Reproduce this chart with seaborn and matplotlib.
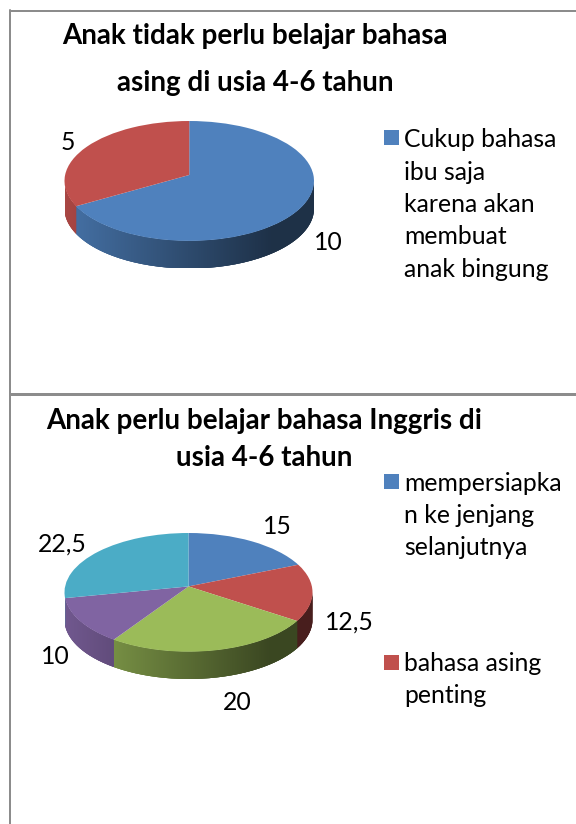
import matplotlib
matplotlib.use("Agg")
import matplotlib.pyplot as plt
import numpy as np
import seaborn as sns
from matplotlib.colors import to_rgb
from matplotlib.lines import Line2D
from matplotlib.patches import PathPatch, Rectangle
from matplotlib.path import Path

top_title = "Anak tidak perlu belajar bahasa\nasing di usia 4-6 tahun"
top_values = [10, 5]
top_labels = ["10", "5"]
top_legend = ["Cukup bahasa\nibu saja\nkarena akan\nmembuat\nanak bingung"]

bottom_title = "Anak perlu belajar bahasa Inggris di\nusia 4-6 tahun"
bottom_values = [15, 12.5, 20, 10, 22.5]
bottom_labels = ["15", "12,5", "20", "10", "22,5"]
bottom_legend = ["mempersiapka\nn ke jenjang\nselanjutnya", "bahasa asing\npenting"]

palette = ["#4F81BD", "#C0504D", "#9BBB59", "#8064A2", "#4BACC6"]

W, H = 576, 824
DEPTH = 0.46
TILT = 0.1

sns.set_theme(style="white")
plt.rcParams["font.family"] = ["Lato", "DejaVu Sans"]

fig = plt.figure(figsize=(W / 100, H / 100), dpi=100, facecolor="white")


def put_text(x, y, s, **kw):
    kw.setdefault("ha", "left")
    kw.setdefault("va", "center")
    kw.setdefault("color", "black")
    fig.text(x / W, 1 - y / H, s, **kw)


def perspective(x, y):
    # keeps the rim on the circle but pushes the pie's centre back, like the 3D view
    d = 1 + TILT * y
    return x * np.sqrt(1 - TILT**2) / d, (y + TILT) / d


def side_faces(ax, wedges, spans):
    # extruded rim below the front half, lighter on the left and dark to the right
    xs = np.linspace(-1, 1, 300)
    shade = np.interp(xs, [-1, 0.65, 1], [0.88, 0.38, 0.38])
    for wedge, (theta1, theta2) in zip(wedges, spans):
        base = np.array(to_rgb(wedge.get_facecolor()[:3]))
        img = (shade[:, None] * base)[None, :, :]
        for k in (-360, 0, 360):
            start = theta1 + k
            stop = theta2 + k
            t = np.radians(np.linspace(start, stop, 200))
            cx, cy = perspective(np.cos(t), np.sin(t))
            keep = cy <= 0
            if keep.sum() < 2:
                continue
            cx, cy = cx[keep], cy[keep]
            px = np.concatenate([cx, cx[::-1]])
            py = np.concatenate([cy, cy[::-1] - DEPTH])
            im = ax.imshow(img, extent=(-1, 1, -1 - DEPTH, 1), aspect="auto", zorder=0)
            im.set_clip_path(PathPatch(Path(np.column_stack([px, py])), transform=ax.transData))


def draw_pie(box, values, colors):
    left, top, right, bottom = box
    ax = fig.add_axes([left / W, 1 - bottom / H, (right - left) / W, (bottom - top) / H])
    wedges, _ = ax.pie(values, colors=colors, startangle=90, counterclock=False, radius=1,
                       wedgeprops={"linewidth": 0})
    spans = [(w.theta1, w.theta2) for w in wedges]
    side_faces(ax, wedges, spans)
    for wedge in wedges:
        v = wedge.get_path().vertices
        v[:, 0], v[:, 1] = perspective(v[:, 0].copy(), v[:, 1].copy())
    ax.set_aspect("auto")
    ax.set_xlim(-1, 1)
    ax.set_ylim(-1 - DEPTH, 1)
    ax.axis("off")


def draw_legend(entries, colors, centers, squares):
    for s, color, cy, sy in zip(entries, colors, centers, squares):
        fig.add_artist(Rectangle((384 / W, 1 - (sy + 7.5) / H), 14.5 / W, 15 / H, color=color,
                                 transform=fig.transFigure, lw=0))
        put_text(404.5, cy, s, fontsize=17.8, linespacing=1.49)


# frame of the two table cells
for xs, ys, lw in [((10, 10), (10, 824), 2), ((10, 576), (11, 11), 2), ((10, 576), (394, 394), 3)]:
    fig.add_artist(Line2D([x / W for x in xs], [1 - y / H for y in ys], color="#8C8C8C", lw=lw * 0.72))

draw_pie((64.5, 121, 314, 268.5), top_values, palette)
put_text(255, 59.5, top_title, ha="center", fontsize=20, fontweight="bold", linespacing=2.0)
for s, (x, y) in zip(top_labels, [(328, 243), (68, 143)]):
    put_text(x, y, s, ha="center", fontsize=17.8)
draw_legend(top_legend, palette, [204.5], [137.5])

draw_pie((64.5, 533, 312.5, 679), bottom_values, palette)
put_text(264, 439.5, bottom_title, ha="center", fontsize=20, fontweight="bold", linespacing=1.49)
for s, (x, y) in zip(bottom_labels, [(277, 527), (349, 622), (237, 703), (55, 656), (62, 544)]):
    put_text(x, y, s, ha="center", fontsize=17.8)
draw_legend(bottom_legend, palette, [515.5, 679.5], [481.5, 662.5])

fig.savefig("out.png", dpi=100)
